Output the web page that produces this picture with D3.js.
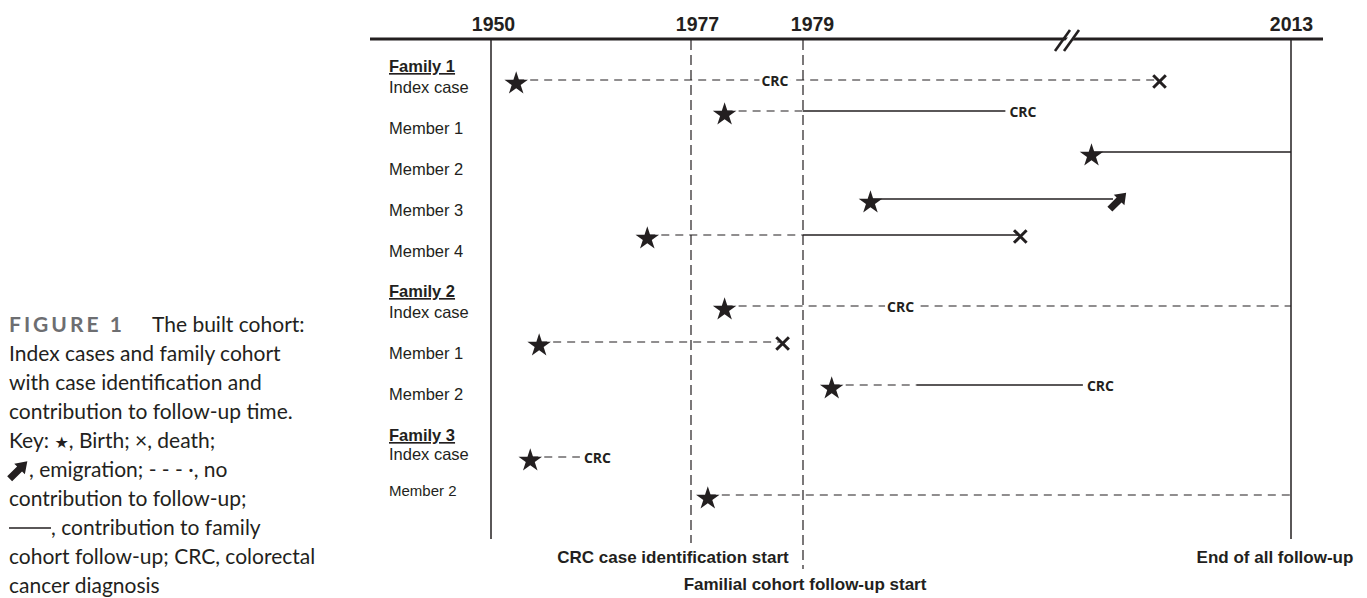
<!DOCTYPE html>
<html><head><meta charset="utf-8">
<script src="https://cdn.jsdelivr.net/npm/d3@7"></script>
<style>body{margin:0;background:#fff}svg{display:block}</style>
</head><body>
<svg id="chart" width="1367" height="598"></svg>
<script>
// ---------------- data ----------------
const tickYears = [1950, 1977, 1979, 2013];
const refLineYears = [1950, 1977, 1979, 2013];
const refLineKinds = ["solid", "dashed", "dashed", "solid"];
const refLineLabels = ["", "CRC case identification start", "Familial cohort follow-up start", "End of all follow-up"];
const familyNames = ["Family 1", "Family 2", "Family 3"];
const rowFamily = [0, 0, 0, 0, 0, 1, 1, 1, 2, 2];
const rowLabels = ["Index case", "Member 1", "Member 2", "Member 3", "Member 4",
                   "Index case", "Member 1", "Member 2", "Index case", "Member 2"];
const birthYear    = [1953.4, 1977.6, 1999.1, 1983.7, 1971.1, 1977.6, 1956.5, 1981.0, 1955.3, 1977.3];
const contribStart = [null,   1979,   1999.1, 1983.7, 1979,   null,   null,   1986.9, null,   null];
const endYear      = [2003.7, 1993.1, 2013,   2000.6, 1994.0, 2013,   1978.6, 1998.5, 1962.0, 2013];
const endEvent     = ["death", "crc", "end", "emigration", "death", "end", "death", "crc", "crc", "end"];
const crcYear      = [1978.5, 1993.1, null,   null,   null,   1985.8, null,   1998.5, 1962.0, null];
const captionLines = [
  "Index cases and family cohort",
  "with case identification and",
  "contribution to follow-up time."
];

// ---------------- layout ----------------
const INK = "#231f20";
const svg = d3.select("#chart");
svg.append("rect").attr("width", 1367).attr("height", 598).attr("fill", "#fff");

// piecewise (broken) time scale
const x = d3.scaleLinear().domain(tickYears).range([491, 691, 803, 1291]);
const rowIds = d3.range(rowLabels.length);
const laneY = d3.scaleOrdinal().domain(rowIds).range([80, 111, 152, 199, 235, 306, 342, 385, 457, 495]);
const labelY = d3.scaleOrdinal().domain(rowIds).range([93, 134, 175, 216, 257, 318, 359, 400, 460, 496]);
const famY = d3.scaleOrdinal().domain([0, 1, 2]).range([72, 297, 441]);

// header axis line
const headerY = 39;
svg.append("line").attr("x1", 370).attr("x2", 1323).attr("y1", headerY).attr("y2", headerY)
  .attr("stroke", INK).attr("stroke-width", 3);
// break marks
const bx = 1068;
svg.append("path").attr("d", `M${bx-7},${headerY+8}L${bx+3},${headerY-6}L${bx+10},${headerY-6}L${bx},${headerY+8}Z`).attr("fill", "#fff");
[-5, 4].forEach(o => {
  svg.append("line").attr("x1", bx + o - 8).attr("y1", headerY + 12).attr("x2", bx + o + 7).attr("y2", headerY - 9)
    .attr("stroke", INK).attr("stroke-width", 2.6);
});

// axis labels
const tickDx = [2, 6, 9, 0];
const axis = d3.axisTop(x).tickValues(tickYears).tickSize(0).tickPadding(8).tickFormat(d3.format("d"));
const ag = svg.append("g").attr("transform", `translate(0,${headerY})`).call(axis);
ag.select(".domain").remove();
ag.selectAll("text").attr("font-family", "Liberation Sans, Arial, sans-serif").attr("font-weight", "bold")
  .attr("font-size", 19.5).attr("fill", INK).attr("dx", (d, i) => tickDx[i]);

// reference vertical lines
const refBottom = [539, 543, 569, 539];
const refLabelDx = [0, -18, 2, -16];
const refLabelY = [0, 563, 590, 563];
refLineYears.forEach((yr, i) => {
  svg.append("line").attr("x1", x(yr)).attr("x2", x(yr)).attr("y1", headerY + 1).attr("y2", refBottom[i])
    .attr("stroke", INK).attr("stroke-width", refLineKinds[i] === "solid" ? 1.5 : 1.2)
    .attr("stroke-dasharray", refLineKinds[i] === "solid" ? null : "10,5");
  if (refLineLabels[i]) {
    svg.append("text").attr("x", x(yr) + refLabelDx[i]).attr("y", refLabelY[i]).attr("text-anchor", "middle")
      .attr("font-family", "Liberation Sans, Arial, sans-serif").attr("font-weight", "bold").attr("font-size", 17)
      .attr("fill", INK).text(refLineLabels[i]);
  }
});

// row labels
const labFont = "Liberation Sans, Arial, sans-serif";
familyNames.forEach((f, i) => {
  svg.append("text").attr("x", 389).attr("y", famY(i)).attr("font-family", labFont).attr("font-weight", "bold")
    .attr("font-size", 16.5).attr("text-decoration", "underline").attr("fill", INK).text(f);
});
rowIds.forEach(i => {
  svg.append("text").attr("x", 389).attr("y", labelY(i)).attr("font-family", labFont)
    .attr("font-size", i === 9 ? 15 : 16.5).attr("fill", INK).text(rowLabels[i]);
});

// lifelines
const lines = svg.append("g");
rowIds.forEach(i => {
  const y = laneY(i);
  const dashEnd = contribStart[i] == null ? endYear[i] : contribStart[i];
  if (dashEnd > birthYear[i]) {
    lines.append("line").attr("x1", x(birthYear[i])).attr("x2", x(dashEnd)).attr("y1", y).attr("y2", y)
      .attr("stroke", INK).attr("stroke-width", 1.2).attr("stroke-dasharray", "8,6");
  }
  if (contribStart[i] != null) {
    lines.append("line").attr("x1", x(contribStart[i])).attr("x2", x(endYear[i])).attr("y1", y).attr("y2", y)
      .attr("stroke", INK).attr("stroke-width", 1.3);
  }
});

// CRC labels
const crcFont = "Open Sans, Liberation Sans, sans-serif";
rowIds.forEach(i => {
  if (crcYear[i] == null) return;
  const y = laneY(i);
  if (endEvent[i] === "crc") {
    svg.append("text").attr("x", x(crcYear[i]) + 4).attr("y", y + 1).attr("dy", "0.36em")
      .attr("font-family", crcFont).attr("font-weight", "bold").attr("font-size", 14).attr("fill", INK).text("CRC");
  } else {
    const t = svg.append("text").attr("x", x(crcYear[i])).attr("y", y + 1).attr("dy", "0.36em").attr("text-anchor", "middle")
      .attr("font-family", crcFont).attr("font-weight", "bold").attr("font-size", 14).attr("fill", INK).text("CRC");
    const bb = t.node().getBBox();
    svg.insert("rect", () => t.node()).attr("x", bb.x - 2).attr("y", bb.y).attr("width", bb.width + 4).attr("height", bb.height).attr("fill", "#fff");
  }
});

// arrow shape helper (centered, pointing right before rotation)
function arrowPath(len, shaftW, headW, headL) {
  const h = len / 2;
  return `M${-h},${-shaftW/2}L${h-headL},${-shaftW/2}L${h-headL},${-headW/2}L${h},0L${h-headL},${headW/2}L${h-headL},${shaftW/2}L${-h},${shaftW/2}Z`;
}

// end markers
rowIds.forEach(i => {
  const y = laneY(i), ex = x(endYear[i]);
  if (endEvent[i] === "death") {
    const cx = ex + 2, cy = y + 1.5, a = 6.3;
    svg.append("path").attr("d", `M${cx-a},${cy-a}L${cx+a},${cy+a}M${cx-a},${cy+a}L${cx+a},${cy-a}`)
      .attr("stroke", INK).attr("stroke-width", 3).attr("fill", "none");
  } else if (endEvent[i] === "emigration") {
    svg.append("path").attr("d", arrowPath(23, 7, 15, 10))
      .attr("transform", `translate(${ex + 5},${y + 2}) rotate(-45)`).attr("fill", INK);
  }
});

// birth stars
const star = d3.symbol().type(d3.symbolStar).size(172);
rowIds.forEach(i => {
  svg.append("path").attr("d", star()).attr("transform", `translate(${x(birthYear[i])},${laneY(i) + 3.6})`).attr("fill", INK);
});

// ---------------- caption ----------------
const capFont = "Lato, 'Open Sans', sans-serif";
const capSize = 21;
const cap = svg.append("g").attr("font-family", capFont).attr("font-size", capSize).attr("fill", INK);
const base0 = 332, lh = 29;
const l1 = cap.append("text").attr("x", 9).attr("y", base0);
l1.append("tspan").attr("font-weight", "bold").attr("fill", "#6d6e71").attr("letter-spacing", 3).text("FIGURE 1");
l1.append("tspan").attr("x", 152).text("The built cohort:");
captionLines.forEach((s, k) => cap.append("text").attr("x", 9).attr("y", base0 + lh * (k + 1)).text(s));
const l5 = cap.append("text").attr("x", 9).attr("y", base0 + lh * 4);
l5.append("tspan").text("Key: ");
l5.append("tspan").attr("font-family", "DejaVu Sans").attr("font-size", 16).text("★");
l5.append("tspan").text(", Birth; ×, death;");
cap.append("path").attr("d", arrowPath(25, 7, 15, 11))
  .attr("transform", `translate(18.5,${base0 + lh * 5 - 7}) rotate(-45)`).attr("fill", INK);
cap.append("text").attr("x", 29).attr("y", base0 + lh * 5).text(", emigration; - - - ·, no");
cap.append("text").attr("x", 9).attr("y", base0 + lh * 6).text("contribution to follow-up;");
cap.append("line").attr("x1", 9).attr("x2", 51).attr("y1", base0 + lh * 7 - 7).attr("y2", base0 + lh * 7 - 7)
  .attr("stroke", INK).attr("stroke-width", 1.4);
cap.append("text").attr("x", 51).attr("y", base0 + lh * 7).text(", contribution to family");
cap.append("text").attr("x", 9).attr("y", base0 + lh * 8).text("cohort follow-up; CRC, colorectal");
cap.append("text").attr("x", 9).attr("y", base0 + lh * 9).text("cancer diagnosis");
</script>
</body></html>
